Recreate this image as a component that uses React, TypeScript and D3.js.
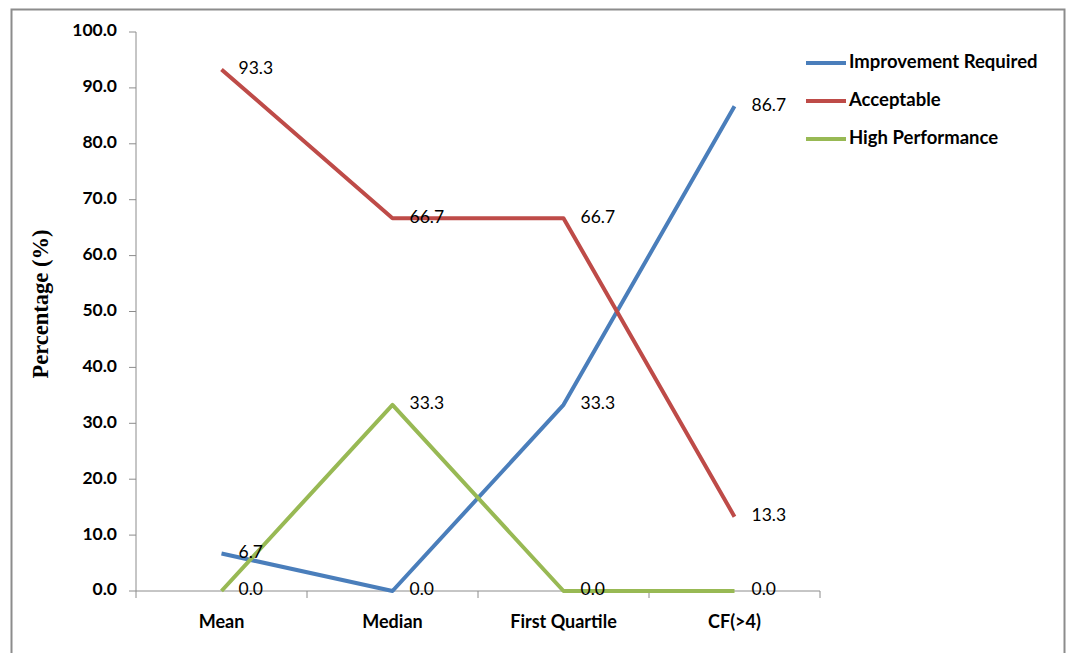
import React from "react";
import * as d3 from "d3";

const categories = ["Mean", "Median", "First Quartile", "CF(>4)"];
const seriesNames = ["Improvement Required", "Acceptable", "High Performance"];
const improvementRequired = [6.7, 0.0, 33.3, 86.7];
const acceptable = [93.3, 66.7, 66.7, 13.3];
const highPerformance = [0.0, 33.3, 0.0, 0.0];
const seriesColors = ["#4A7EBB", "#BE4B48", "#98B954"];
const yTicks = [0, 10, 20, 30, 40, 50, 60, 70, 80, 90, 100];

const W = 1068;
const H = 653;
const plot = { left: 136, right: 820, top: 32, bottom: 591 };
const sansFont = "Lato, 'Open Sans', sans-serif";

export default function App() {
  const series = [improvementRequired, acceptable, highPerformance];
  const x = d3
    .scaleBand<string>()
    .domain(categories)
    .range([plot.left, plot.right])
    .paddingInner(0)
    .paddingOuter(0);
  const cx = (c: string) => (x(c) as number) + x.bandwidth() / 2;
  const y = d3.scaleLinear().domain([0, 100]).range([plot.bottom, plot.top]);
  const line = d3
    .line<number>()
    .x((_, i) => cx(categories[i]))
    .y((v) => y(v));

  const boundaries = categories.map((c) => x(c) as number).concat([plot.right]);

  return (
    <div style={{ position: "absolute", left: 0, top: 0, width: W, height: H, background: "#fff" }}>
      <svg width={W} height={H} style={{ display: "block" }}>
        <rect x={11.5} y={9.5} width={1053} height={660} fill="#fff" stroke="#8c8c8c" strokeWidth={2} />

        {/* y axis */}
        <line x1={plot.left} x2={plot.left} y1={plot.top} y2={plot.bottom} stroke="#8c8c8c" strokeWidth={1} />
        {yTicks.map((t) => (
          <g key={t}>
            <line x1={plot.left - 7} x2={plot.left} y1={y(t)} y2={y(t)} stroke="#8c8c8c" strokeWidth={1} />
            <text
              x={117}
              y={y(t)}
              textAnchor="end"
              dominantBaseline="middle"
              fontFamily={sansFont}
              fontWeight="bold"
              fontSize={17.5}
              fill="#000"
            >
              {t.toFixed(1)}
            </text>
          </g>
        ))}

        {/* x axis */}
        <line x1={plot.left} x2={plot.right} y1={plot.bottom} y2={plot.bottom} stroke="#8c8c8c" strokeWidth={1} />
        {boundaries.map((b, i) => (
          <line key={i} x1={b} x2={b} y1={plot.bottom} y2={plot.bottom + 7} stroke="#8c8c8c" strokeWidth={1} />
        ))}
        {categories.map((c) => (
          <text
            key={c}
            x={cx(c)}
            y={623}
            textAnchor="middle"
            dominantBaseline="middle"
            fontFamily={sansFont}
            fontWeight="bold"
            fontSize={18}
            fill="#000"
          >
            {c}
          </text>
        ))}

        {/* y axis title */}
        <text
          transform={`translate(43,304) rotate(-90)`}
          textAnchor="middle"
          dominantBaseline="middle"
          fontFamily="'Liberation Serif', 'Times New Roman', serif"
          fontWeight="bold"
          fontSize={22.5}
          fill="#000"
        >
          Percentage (%)
        </text>

        {/* series lines */}
        {series.map((s, si) => (
          <path
            key={si}
            d={line(s) as string}
            fill="none"
            stroke={seriesColors[si]}
            strokeWidth={4}
            strokeLinejoin="round"
          />
        ))}

        {/* value labels */}
        {series.map((s, si) =>
          s.map((v, i) => (
            <text
              key={`${si}-${i}`}
              x={cx(categories[i]) + 17}
              y={y(v)}
              dominantBaseline="middle"
              fontFamily={sansFont}
              fontSize={17.5}
              fill="#000"
            >
              {v.toFixed(1)}
            </text>
          ))
        )}

        {/* legend */}
        {seriesNames.map((n, i) => (
          <g key={n} transform={`translate(806,${63 + i * 38})`}>
            <line x1={0} x2={40} y1={0} y2={0} stroke={seriesColors[i]} strokeWidth={4} />
            <text
              x={43}
              y={0}
              dominantBaseline="middle"
              fontFamily={sansFont}
              fontWeight="bold"
              fontSize={18.5}
              fill="#000"
            >
              {n}
            </text>
          </g>
        ))}
      </svg>
    </div>
  );
}
